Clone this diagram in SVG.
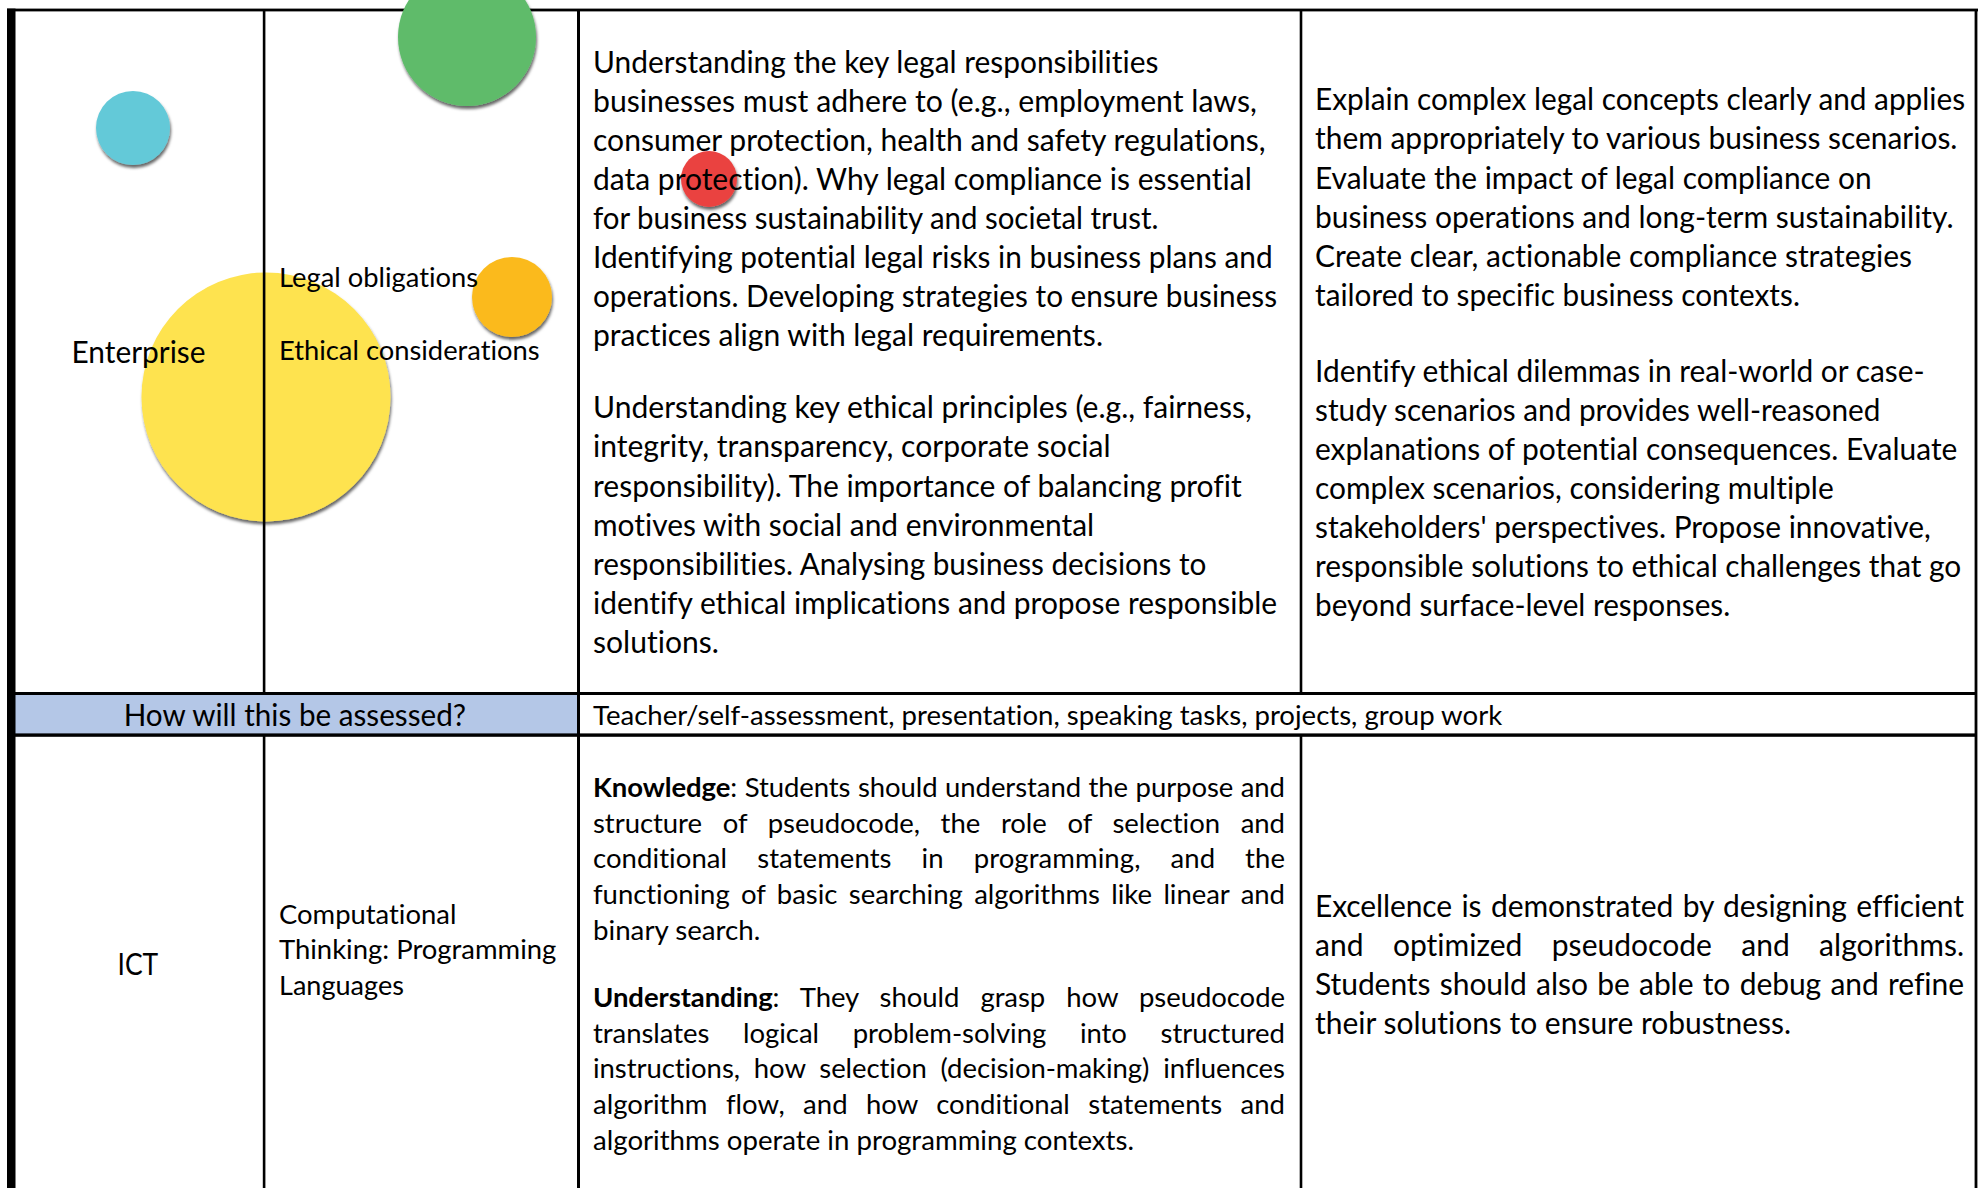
<svg xmlns="http://www.w3.org/2000/svg" width="1979" height="1188" viewBox="0 0 1979 1188">
<style>
.t{font-family:Lato,"Liberation Sans",Arial,sans-serif;fill:#000;font-variant-ligatures:none}
.l{font-size:30px}
.s{font-size:27.5px}
.b{font-weight:bold}
.ln{fill:#000}
</style>
<defs>
<filter id="sh" x="-20%" y="-20%" width="140%" height="150%">
<feDropShadow dx="1" dy="3" stdDeviation="1.6" flood-color="#000" flood-opacity="0.6"/>
</filter>
</defs>
<rect width="1979" height="1188" fill="#fff"/>
<rect id="assess-band" x="15" y="695" width="563" height="39" fill="#b4c7e7"/>
<rect class="ln" x="7" y="8.6" width="1971" height="2.8"/>
<g id="bubbles" filter="url(#sh)">
<circle id="bubble-cyan" cx="133" cy="128" r="37" fill="#63c9d8"/>
<circle id="bubble-green" cx="467" cy="37" r="69" fill="#5ebb6a"/>
<circle id="bubble-red" cx="709" cy="179" r="28" fill="#ea4241"/>
<circle id="bubble-orange" cx="512" cy="297" r="40" fill="#fbba1c"/>
<circle id="bubble-yellow" cx="266" cy="397" r="124.5" fill="#fee34f"/>
</g>
<g id="grid">
<rect class="ln" x="7" y="8.6" width="8.5" height="1180"/>
<rect class="ln" x="262.8" y="10" width="2.6" height="684"/>
<rect class="ln" x="262.8" y="735" width="2.6" height="453"/>
<rect class="ln" x="577" y="10" width="3" height="1178"/>
<rect class="ln" x="1299.7" y="10" width="2.6" height="684"/>
<rect class="ln" x="1299.7" y="735" width="2.6" height="453"/>
<rect class="ln" x="1974.6" y="10" width="2.8" height="1178"/>
<rect class="ln" x="7" y="692" width="1970" height="3"/>
<rect class="ln" x="7" y="733.4" width="1970" height="3.4"/>
</g>
<g id="cell-subject-enterprise">
<text class="t l" x="71.5" y="363" textLength="134" lengthAdjust="spacingAndGlyphs">Enterprise</text>
</g>
<g id="cell-topic-enterprise">
<text class="t s" x="279" y="286.5" textLength="199.2" lengthAdjust="spacingAndGlyphs">Legal obligations</text>
<text class="t s" x="279" y="359.5" textLength="260.7" lengthAdjust="spacingAndGlyphs">Ethical considerations</text>
</g>
<g id="cell-knowledge-enterprise" class="t l">
<text x="593" y="72.5" textLength="565.4" lengthAdjust="spacingAndGlyphs">Understanding the key legal responsibilities</text>
<text x="593" y="111.6" textLength="663.9" lengthAdjust="spacingAndGlyphs">businesses must adhere to (e.g., employment laws,</text>
<text x="593" y="150.7" textLength="672.7" lengthAdjust="spacingAndGlyphs">consumer protection, health and safety regulations,</text>
<text x="593" y="189.8" textLength="658.8" lengthAdjust="spacingAndGlyphs">data protection). Why legal compliance is essential</text>
<text x="593" y="228.9" textLength="565.4" lengthAdjust="spacingAndGlyphs">for business sustainability and societal trust.</text>
<text x="593" y="268" textLength="679.6" lengthAdjust="spacingAndGlyphs">Identifying potential legal risks in business plans and</text>
<text x="593" y="307.1" textLength="684.1" lengthAdjust="spacingAndGlyphs">operations. Developing strategies to ensure business</text>
<text x="593" y="346.2" textLength="510" lengthAdjust="spacingAndGlyphs">practices align with legal requirements.</text>
<text x="593" y="418.3" textLength="658.8" lengthAdjust="spacingAndGlyphs">Understanding key ethical principles (e.g., fairness,</text>
<text x="593" y="457.4" textLength="517.5" lengthAdjust="spacingAndGlyphs">integrity, transparency, corporate social</text>
<text x="593" y="496.5" textLength="648.7" lengthAdjust="spacingAndGlyphs">responsibility). The importance of balancing profit</text>
<text x="593" y="535.6" textLength="501.1" lengthAdjust="spacingAndGlyphs">motives with social and environmental</text>
<text x="593" y="574.7" textLength="613.4" lengthAdjust="spacingAndGlyphs">responsibilities. Analysing business decisions to</text>
<text x="593" y="613.8" textLength="684.1" lengthAdjust="spacingAndGlyphs">identify ethical implications and propose responsible</text>
<text x="593" y="652.9" textLength="125.8" lengthAdjust="spacingAndGlyphs">solutions.</text>
</g>
<g id="cell-excellence-enterprise" class="t l">
<text x="1315" y="110.3" textLength="650.1" lengthAdjust="spacingAndGlyphs">Explain complex legal concepts clearly and applies</text>
<text x="1315" y="149.4" textLength="642.4" lengthAdjust="spacingAndGlyphs">them appropriately to various business scenarios.</text>
<text x="1315" y="188.5" textLength="556.6" lengthAdjust="spacingAndGlyphs">Evaluate the impact of legal compliance on</text>
<text x="1315" y="227.6" textLength="638.6" lengthAdjust="spacingAndGlyphs">business operations and long-term sustainability.</text>
<text x="1315" y="266.7" textLength="597" lengthAdjust="spacingAndGlyphs">Create clear, actionable compliance strategies</text>
<text x="1315" y="305.8" textLength="484.9" lengthAdjust="spacingAndGlyphs">tailored to specific business contexts.</text>
<text x="1315" y="381.7" textLength="609.6" lengthAdjust="spacingAndGlyphs">Identify ethical dilemmas in real-world or case-</text>
<text x="1315" y="420.8" textLength="565.4" lengthAdjust="spacingAndGlyphs">study scenarios and provides well-reasoned</text>
<text x="1315" y="459.9" textLength="642.4" lengthAdjust="spacingAndGlyphs">explanations of potential consequences. Evaluate</text>
<text x="1315" y="499" textLength="518.7" lengthAdjust="spacingAndGlyphs">complex scenarios, considering multiple</text>
<text x="1315" y="538.1" textLength="615.9" lengthAdjust="spacingAndGlyphs">stakeholders' perspectives. Propose innovative,</text>
<text x="1315" y="577.2" textLength="646.2" lengthAdjust="spacingAndGlyphs">responsible solutions to ethical challenges that go</text>
<text x="1315" y="616.3" textLength="415.2" lengthAdjust="spacingAndGlyphs">beyond surface-level responses.</text>
</g>
<g id="cell-assessed-label">
<text class="t l" x="123.7" y="725.5" textLength="342.4" lengthAdjust="spacingAndGlyphs">How will this be assessed?</text>
</g>
<g id="cell-assessed-value">
<text class="t s" x="593" y="724.5" textLength="909.2" lengthAdjust="spacingAndGlyphs">Teacher/self-assessment, presentation, speaking tasks, projects, group work</text>
</g>
<g id="cell-subject-ict">
<text class="t l" x="117.5" y="975" textLength="40.7" lengthAdjust="spacingAndGlyphs">ICT</text>
</g>
<g id="cell-topic-ict" class="t s">
<text x="279" y="923.5" textLength="177.4" lengthAdjust="spacingAndGlyphs">Computational</text>
<text x="279" y="959.3" textLength="277.3" lengthAdjust="spacingAndGlyphs">Thinking: Programming</text>
<text x="279" y="995.1" textLength="124.9" lengthAdjust="spacingAndGlyphs">Languages</text>
</g>
<g id="cell-knowledge-ict" class="t s">
<text x="593" y="796.7" textLength="692" lengthAdjust="spacing" word-spacing="0.6"><tspan class="b">Knowledge</tspan>: Students should understand the purpose and</text>
<text x="593" y="832.5" textLength="692" lengthAdjust="spacing" word-spacing="13.7">structure of pseudocode, the role of selection and</text>
<text x="593" y="868.3" textLength="692" lengthAdjust="spacing" word-spacing="22.9">conditional statements in programming, and the</text>
<text x="593" y="904.1" textLength="692" lengthAdjust="spacing" word-spacing="4.4">functioning of basic searching algorithms like linear and</text>
<text x="593" y="939.9" textLength="167.3" lengthAdjust="spacingAndGlyphs">binary search.</text>
<text x="593" y="1006.7" textLength="692" lengthAdjust="spacing" word-spacing="14.1"><tspan class="b">Understanding</tspan>: They should grasp how pseudocode</text>
<text x="593" y="1042.5" textLength="692" lengthAdjust="spacing" word-spacing="26.7">translates logical problem-solving into structured</text>
<text x="593" y="1078.3" textLength="692" lengthAdjust="spacing" word-spacing="6.9">instructions, how selection (decision-making) influences</text>
<text x="593" y="1114.1" textLength="692" lengthAdjust="spacing" word-spacing="11.3">algorithm flow, and how conditional statements and</text>
<text x="593" y="1149.9" textLength="541" lengthAdjust="spacingAndGlyphs">algorithms operate in programming contexts.</text>
</g>
<g id="cell-excellence-ict" class="t l">
<text x="1315" y="916.8" textLength="649" lengthAdjust="spacing" word-spacing="1.9">Excellence is demonstrated by designing efficient</text>
<text x="1315" y="955.9" textLength="649" lengthAdjust="spacing" word-spacing="21.7">and optimized pseudocode and algorithms.</text>
<text x="1315" y="995" textLength="649" lengthAdjust="spacing" word-spacing="1.75">Students should also be able to debug and refine</text>
<text x="1315" y="1034.1" textLength="476" lengthAdjust="spacingAndGlyphs">their solutions to ensure robustness.</text>
</g>
</svg>
